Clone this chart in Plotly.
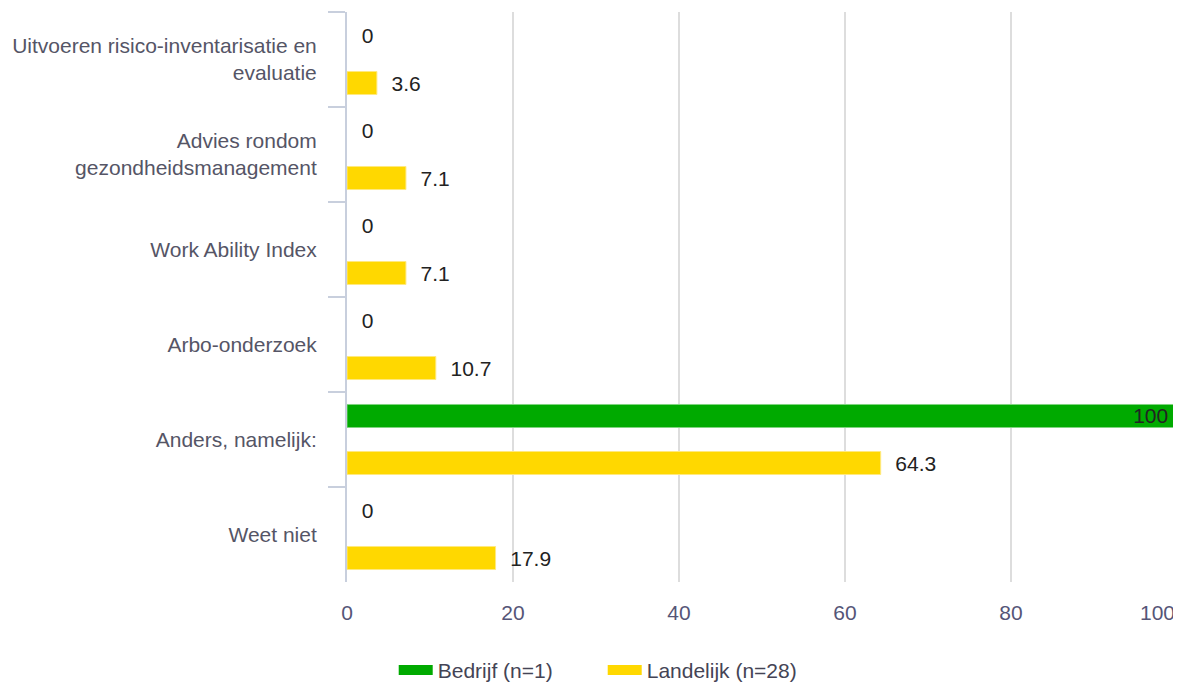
import plotly.graph_objects as go

categories = [
    "Uitvoeren risico-inventarisatie en<br>evaluatie",
    "Advies rondom<br>gezondheidsmanagement",
    "Work Ability Index",
    "Arbo-onderzoek",
    "Anders, namelijk:",
    "Weet niet",
]
bedrijf = [0, 0, 0, 0, 100, 0]
landelijk = [3.6, 7.1, 7.1, 10.7, 64.3, 17.9]
x_ticks = [0, 20, 40, 60, 80, 100]
series_names = ["Bedrijf (n=1)", "Landelijk (n=28)"]
series_colors = ["#00aa00", "#ffd800"]

FONT = "Liberation Sans, Arial, sans-serif"
SZ = 21
PAD = "\u00a0\u00a0"  # small gap between bar end and outside label


def labels(vals, inside=None):
    out = []
    for v in vals:
        if inside is not None and v >= inside:
            out.append(f"{v:g}\u00a0")
        else:
            out.append(PAD + f"{v:g}")
    return out


fig = go.Figure()
fig.add_trace(go.Bar(
    name=series_names[0], y=categories, x=bedrijf, orientation="h",
    marker=dict(color=series_colors[0],
                line=dict(color="#80d480", width=[0 if v == 0 else 1 for v in bedrijf])),
    text=labels(bedrijf, inside=90),
    textposition=["inside" if v >= 90 else "outside" for v in bedrijf],
    insidetextanchor="end", constraintext="none",
    textfont=dict(color="#222222", size=SZ, family=FONT),
    cliponaxis=False, showlegend=False,
))
fig.add_trace(go.Bar(
    name=series_names[1], y=categories, x=landelijk, orientation="h",
    marker=dict(color=series_colors[1], line=dict(color="#ffe97f", width=1)),
    text=labels(landelijk),
    textposition="outside", constraintext="none",
    textfont=dict(color="#222222", size=SZ, family=FONT),
    cliponaxis=False, showlegend=False,
))

# legend entries drawn as thick lines to get the wide rectangular swatches
for name, color in zip(series_names, series_colors):
    fig.add_trace(go.Scatter(
        x=[None], y=[None], mode="lines", name=name,
        line=dict(color=color, width=13),
    ))

# page body has an 8px margin, so the figure is a bit smaller than the window
fig.update_layout(
    width=1173, height=680,
    barmode="group", bargap=0.01, bargroupgap=0.51,
    plot_bgcolor="white", paper_bgcolor="white",
    font=dict(family=FONT, size=SZ, color="#555566"),
    margin=dict(l=339, r=4, t=4, b=106, autoexpand=False),
    showlegend=True,
    legend=dict(
        orientation="h", xref="container", x=0.507, xanchor="center",
        yref="container", y=0.026, yanchor="middle",
        font=dict(size=SZ, color="#444455"),
        traceorder="normal", itemwidth=34, entrywidth=160,
    ),
)

fig.update_xaxes(
    range=[0, 100], tickvals=x_ticks,
    ticktext=[str(t) if t < 100 else "" for t in x_ticks],
    showgrid=True, gridcolor="#dddddd", gridwidth=1.5,
    zeroline=False, showline=False, ticks="",
    ticklabelstandoff=16,
    tickfont=dict(size=SZ, color="#555577"),
)
fig.update_yaxes(
    autorange="reversed", automargin=False,
    showline=True, linecolor="#c8cfdd", linewidth=2,
    ticks="outside", tickson="boundaries", ticklen=17,
    tickcolor="#c8cfdd", tickwidth=2,
    ticklabelstandoff=24,
    tickfont=dict(size=SZ, color="#555566"),
    showgrid=False,
)

fig.add_annotation(
    x=100, xref="x", y=0, yref="paper", yshift=-30,
    text=str(x_ticks[-1]), showarrow=False,
    xanchor="right", yanchor="middle",
    font=dict(size=SZ, color="#555577", family=FONT),
)

fig.write_html("out.html")
